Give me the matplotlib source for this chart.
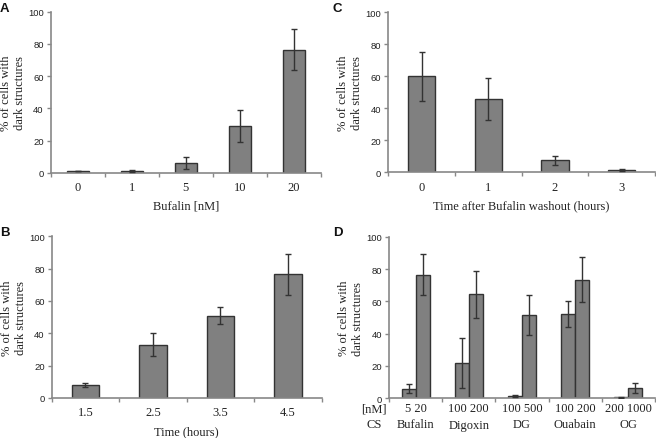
import numpy as np
from matplotlib import pyplot as plt

# panel A: bufalin dose
a_labels = ['0', '1', '5', '10', '20']
a_vals = [1, 1, 6, 29, 76.5]
a_err = [0.2, 0.5, 3.5, 10, 12.5]

# panel B: time course
b_labels = ['1.5', '2.5', '3.5', '4.5']
b_vals = [8, 33, 51, 76.5]
b_err = [1, 7, 5, 12.5]

# panel C: washout
c_labels = ['0', '1', '2', '3']
c_vals = [60, 46, 7.5, 1.5]
c_err = [15.5, 13, 3, 0.5]

# panel D: cardiac steroids, two doses each
d_groups = ['Bufalin', 'Digoxin', 'DG', 'Ouabain', 'OG']
d_doses = ['5 20', '100 200', '100 500', '100 200', '200 1000']
d_low = [6, 22, 1.5, 52, 0.5]
d_low_err = [3, 15.5, 0.5, 8, 0.2]
d_high = [76.5, 64.5, 51.5, 73.5, 6.5]
d_high_err = [12.5, 14.5, 12.5, 14, 3]

SERIF = 'Liberation Serif'
SANS = 'Liberation Sans'
BAR = '#808080'
EDGE = '#333333'
TXT = '#222222'
FS = 9

fig = plt.figure(figsize=(6.56, 4.39), dpi=100)
W, H = 656, 439


def mkax(x0, x1, ytop, ybot):
    return fig.add_axes([x0 / W, 1 - ybot / H, (x1 - x0) / W, (ybot - ytop) / H])


def style(ax, n, xlabel=None):
    ax.set_xlim(-0.5, n - 0.5)
    ax.set_ylim(0, 100)
    for s in ['top', 'right']:
        ax.spines[s].set_visible(False)
    for s in ['left', 'bottom']:
        ax.spines[s].set_color('#888888')
        ax.spines[s].set_linewidth(1.2)
    ax.set_yticks(range(0, 101, 20))
    ax.tick_params(axis='y', length=3, width=1, color='#888888', pad=2,
                   labelsize=6.8, labelcolor=TXT)
    for t in ax.get_yticklabels():
        t.set_family(SANS)
    # boundary ticks, labels at centres
    ax.set_xticks(np.arange(-0.5, n, 1.0))
    ax.set_xticklabels([])
    ax.tick_params(axis='x', which='major', length=3, width=1, color='#888888')
    ax.set_xticks(np.arange(n), minor=True)
    ax.tick_params(axis='x', which='minor', length=0, pad=6,
                   labelsize=FS, labelcolor=TXT)
    ax.set_ylabel('% of cells with\ndark structures', family=SERIF, fontsize=FS,
                  color=TXT, linespacing=1.2)
    bb = ax.get_position()
    ax.yaxis.set_label_coords(-25 / (bb.width * W), 0.5)
    if xlabel:
        ax.set_xlabel(xlabel, family=SERIF, fontsize=FS, color=TXT, labelpad=5)


def bars(ax, x, vals, err, width):
    ax.bar(x, vals, width=width, color=BAR, edgecolor=EDGE, linewidth=1.0, zorder=2)
    ax.errorbar(x, vals, yerr=err, fmt='none', ecolor=EDGE, elinewidth=1.0,
                capsize=2, capthick=1.0, zorder=3)


# A
axA = mkax(50.7, 321, 12.7, 173.7)
bars(axA, np.arange(len(a_vals)), a_vals, a_err, 0.41)
style(axA, len(a_vals), 'Bufalin [nM]')
axA.set_xticklabels(a_labels, minor=True, family=SERIF)

# C
axC = mkax(388.3, 655, 13.3, 173.3)
bars(axC, np.arange(len(c_vals)), c_vals, c_err, 0.41)
style(axC, len(c_vals), 'Time after Bufalin washout (hours)')
axC.set_xticklabels(c_labels, minor=True, family=SERIF)

# B
axB = mkax(51.7, 321.7, 237.3, 399)
bars(axB, np.arange(len(b_vals)), b_vals, b_err, 0.41)
style(axB, len(b_vals), 'Time (hours)')
axB.set_xticklabels(b_labels, minor=True, family=SERIF)

# D
axD = mkax(389, 655, 237.7, 399.3)
g = np.arange(len(d_groups))
bw = 0.265
bars(axD, g - bw / 2, d_low, d_low_err, bw)
bars(axD, g + bw / 2, d_high, d_high_err, bw)
style(axD, len(d_groups))
axD.set_xticklabels(d_doses, minor=True, family=SERIF)
axD.tick_params(axis='x', which='minor', pad=3)
for i, name in enumerate(d_groups):
    axD.text(i, -12.5, name, ha='center', va='top', family=SERIF, fontsize=FS,
             color=TXT, clip_on=False)
axD.text(-0.78, -2.5, '[nM]', ha='center', va='top', family=SERIF, fontsize=FS,
         color=TXT, clip_on=False)
axD.text(-0.78, -12.5, 'CS', ha='center', va='top', family=SERIF, fontsize=FS,
         color=TXT, clip_on=False)

# panel letters
for lab, x, y in [('A', 0, 3), ('C', 333, 3), ('B', 0, 227), ('D', 333, 227)]:
    fig.text(x / W, 1 - y / H, lab, ha='left', va='top', family=SANS,
             fontweight='bold', fontsize=9.5, color='#111111')

fig.savefig('out.png', dpi=100)
